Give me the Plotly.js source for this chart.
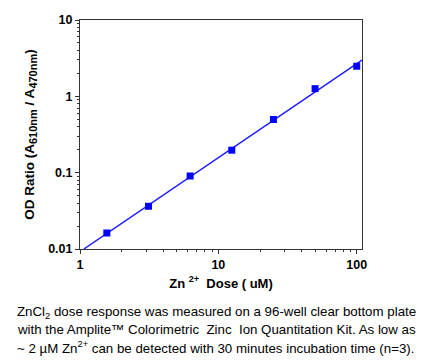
<!DOCTYPE html>
<html><head><meta charset="utf-8">
<script src="https://cdn.plot.ly/plotly-3.0.1.min.js"></script>
<style>html,body{margin:0;padding:0;background:#fff;}</style>
</head><body><div id="chart" style="width:430px;height:360px;"></div>
<script>
// Data
const doseUM = [1.5625, 3.125, 6.25, 12.5, 25, 50, 100];
const odRatio = [0.0162, 0.0363, 0.0905, 0.197, 0.497, 1.26, 2.48];
const captionLines = [
  "ZnCl<sub>2</sub> dose response was measured on a 96-well clear bottom plate",
  "with the Amplite™ Colorimetric  Zinc  Ion Quantitation Kit. As low as",
  "~ 2 µM Zn<sup>2+</sup> can be detected with 30 minutes incubation time (n=3)."
];
const xRangeLog = [0, 2.038];
const yRangeLog = [-2, 1];

// Linear fit in log-log space
const lx = doseUM.map(Math.log10), ly = odRatio.map(Math.log10);
const n = lx.length;
const mx = lx.reduce((a,b)=>a+b,0)/n, my = ly.reduce((a,b)=>a+b,0)/n;
let sxy=0, sxx=0;
for (let i=0;i<n;i++){ sxy+=(lx[i]-mx)*(ly[i]-my); sxx+=(lx[i]-mx)**2; }
const slope = sxy/sxx, icpt = my - slope*mx;
const fitStartLog = (yRangeLog[0]-icpt)/slope;
const fitX = [Math.pow(10, fitStartLog), Math.pow(10, xRangeLog[1])];
const fitY = fitX.map(x => Math.pow(10, icpt + slope*Math.log10(x)));

const font = "Liberation Sans, Arial, sans-serif";
const axisCommon = {
  type: 'log', showgrid: false, zeroline: false,
  showline: true, linecolor: '#333', linewidth: 1, mirror: true,
  ticks: 'outside', ticklen: 4, tickcolor: '#333', tickwidth: 1, dtick: 1,
  tickfont: {family: font, size: 12.5, color: '#000', weight: 'bold'},
  minor: {ticks: 'outside', ticklen: 2, tickcolor: '#333', dtick: 'D1', showgrid: false}
};

const traces = [
  {x: fitX, y: fitY, mode: 'lines', line: {color: '#1a1aff', width: 1.5}, hoverinfo: 'skip'},
  {x: doseUM, y: odRatio, mode: 'markers', marker: {symbol: 'square', size: 7, color: '#0000ff'}}
];

const capY0 = 311.7, capStep = 17.8, plotTop = 20, plotBottom = 248.7;
const annotations = captionLines.map((t, i) => ({
  text: t, xref: 'paper', yref: 'paper', showarrow: false,
  x: (15 - 80) / (362 - 80), xanchor: 'left',
  y: (plotBottom - (capY0 + i*capStep)) / (plotBottom - plotTop), yanchor: 'middle',
  font: {family: font, size: 13.3, color: '#000'}, align: 'left'
}));

const layout = {
  width: 430, height: 360,
  margin: {l: 80, r: 68, t: 20, b: 111.3},
  paper_bgcolor: '#fff', plot_bgcolor: '#fff',
  showlegend: false,
  xaxis: Object.assign({}, axisCommon, {
    range: xRangeLog,
    title: {text: 'Zn <sup>2+</sup>  Dose ( uM)', font: {family: font, size: 13, color: '#000', weight: 'bold'}, standoff: 7}
  }),
  yaxis: Object.assign({}, axisCommon, {
    range: yRangeLog,
    title: {text: 'OD Ratio (A<sub><span style="font-size:11px">610nm</span></sub> / A<sub><span style="font-size:11px">470nm</span></sub>)', font: {family: font, size: 13.5, color: '#000', weight: 'bold'}, standoff: 10}
  }),
  annotations: annotations
};

Plotly.newPlot('chart', traces, layout, {displayModeBar: false, staticPlot: true});
</script></body></html>
